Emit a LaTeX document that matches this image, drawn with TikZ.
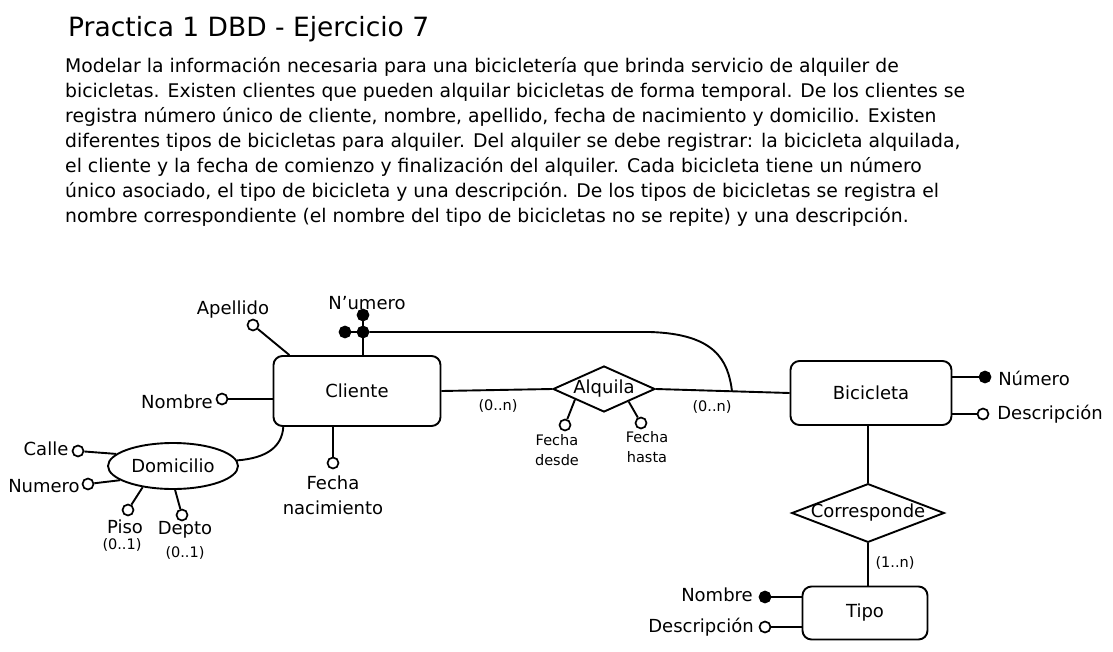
\documentclass[tikz,border=0pt]{standalone}
\usepackage{fontspec}
\setmainfont{DejaVu Sans}
\usetikzlibrary{shapes.geometric}

\begin{document}
\begin{tikzpicture}[x=1pt,y=-1pt]
    \tikzstyle{entity}=[draw=black,rounded corners=9pt,line width=1.9pt,font=\fontsize{18}{20}\selectfont]
    \tikzstyle{rel}=[draw=black,diamond,line width=1.9pt,inner sep=-1pt,font=\fontsize{18}{20}\selectfont]
    \tikzstyle{attr}=[draw=black,circle,fill=white,line width=1.7pt,inner sep=0pt,minimum size=11pt]
    \tikzstyle{key}=[attr,fill=black]
    \tikzstyle{lbl}=[inner sep=0pt,font=\fontsize{18}{20}\selectfont]
    \tikzstyle{small}=[inner sep=0pt,font=\fontsize{14.5}{16}\selectfont]
    \tikzstyle{fwd} = [draw=black, line width=1.9pt]

    \useasboundingbox (0,0) rectangle (1113,651);

    \node[anchor=base west,inner sep=0pt,font=\fontsize{26.5}{28}\selectfont] (title) at (68,36) {Practica 1 DBD - Ejercicio 7};
    \node[anchor=north west,inner sep=0pt,align=left,font=\fontsize{18.8}{25}\selectfont] (enun) at (65,57) {Modelar la información necesaria para una bicicletería que brinda servicio de alquiler de\\
bicicletas. Existen clientes que pueden alquilar bicicletas de forma temporal. De los clientes se\\
registra número único de cliente, nombre, apellido, fecha de nacimiento y domicilio. Existen\\
diferentes tipos de bicicletas para alquiler. Del alquiler se debe registrar: la bicicleta alquilada,\\
el cliente y la fecha de comienzo y finalización del alquiler. Cada bicicleta tiene un número\\
único asociado, el tipo de bicicleta y una descripción. De los tipos de bicicletas se registra el\\
nombre correspondiente (el nombre del tipo de bicicletas no se repite) y una descripción.};

    \node[entity,minimum width=167pt,minimum height=70pt] (cli) at (357,391) {Cliente};
    \node[entity,minimum width=161pt,minimum height=64pt] (bic) at (871,393) {Bicicleta};
    \node[entity,minimum width=125pt,minimum height=53pt] (tip) at (865,613) {Tipo};
    \node[rel,aspect=2.2,minimum width=102pt,minimum height=46pt] (alq) at (604,389) {Alquila};
    \node[rel,aspect=2.6] (cor) at (868,513) {Corresponde};
    \node[lbl,draw=black,ellipse,line width=1.9pt,minimum width=130pt,minimum height=46pt] (dom) at (173,466) {Domicilio};

    \node[attr] (ap) at (253,325) {};
    \node[key]  (nu) at (363,315) {};
    \node[key]  (nj) at (363,332) {};
    \node[key]  (nl) at (345,332) {};
    \node[attr] (no) at (222,399) {};
    \node[attr] (fn) at (333,463) {};
    \node[attr] (ca) at (78,451) {};
    \node[attr] (nr) at (88,484) {};
    \node[attr] (pi) at (128,510) {};
    \node[attr] (de) at (182,515) {};
    \node[attr] (fd) at (565,425) {};
    \node[attr] (fh) at (641,423) {};
    \node[key]  (nb) at (985,377) {};
    \node[attr] (db) at (983,414) {};
    \node[key]  (tn) at (765,597) {};
    \node[attr] (td) at (765,627) {};
    \coordinate (jb) at (732,391);

    \node[lbl] (tap) at (233,310) {Apellido};
    \node[lbl] (tnu) at (367,303) {N'umero};
    \node[lbl] (tno) at (177,402) {Nombre};
    \node[lbl] (tfn) at (333,483) {Fecha};
    \node[lbl] (tfn2) at (333,508) {nacimiento};
    \node[lbl] (tca) at (46,449) {Calle};
    \node[lbl] (tnr) at (44,486) {Numero};
    \node[lbl] (tpi) at (125,527) {Piso};
    \node[small] (tpi2) at (122,545) {(0..1)};
    \node[lbl] (tde) at (185,530) {Depto};
    \node[small] (tde2) at (185,553) {(0..1)};
    \node[small] (tfd) at (557,440) {Fecha};
    \node[small] (tfd2) at (557,460) {desde};
    \node[small] (tfh) at (647,437) {Fecha};
    \node[small] (tfh2) at (647,457) {hasta};
    \node[small] (c1) at (498,406) {(0..n)};
    \node[small] (c2) at (712,407) {(0..n)};
    \node[small] (c3) at (895,563) {(1..n)};
    \node[lbl] (tnb) at (1034,378) {Número};
    \node[lbl] (tdb) at (1050,414) {Descripción};
    \node[lbl] (ttn) at (717,595) {Nombre};
    \node[lbl] (ttd) at (701,627) {Descripción};

   \draw [fwd] (ap) -- (cli.152);
   \draw [fwd] (nu) -- (nj);
   \draw [fwd] (nj) -- (nj |- cli.north);
   \draw [fwd] (nl) -- (nj);
   \draw [fwd] (nj) -- (650,332) .. controls (715,334) and (728,360) .. (jb);
   \draw [fwd] (no) -- (no -| cli.west);
   \draw [fwd] (fn) -- (fn |- cli.south);
   \draw [fwd] (dom.5) .. controls (268,458) and (282,446) .. (cli.206);

   \draw [fwd] (ca) -- (dom.168);
   \draw [fwd] (nr) -- (dom.195);
   \draw [fwd] (pi) -- (dom.215);
   \draw [fwd] (de) -- (dom.275);

   \draw [fwd] (cli.east) -- (alq.west);
   \draw [fwd] (alq.east) -- (bic.west);
   \draw [fwd] (fd) -- (alq.200);
   \draw [fwd] (fh) -- (alq.-27);

   \draw [fwd] (nb) -- (nb -| bic.east);
   \draw [fwd] (db) -- (db -| bic.east);
   \draw [fwd] (cor.north |- bic.south) -- (cor.north);
   \draw [fwd] (cor.south) -- (cor.south |- tip.north);
   \draw [fwd] (tn) -- (tn -| tip.west);
   \draw [fwd] (td) -- (td -| tip.west);

\end{tikzpicture}
\end{document}
